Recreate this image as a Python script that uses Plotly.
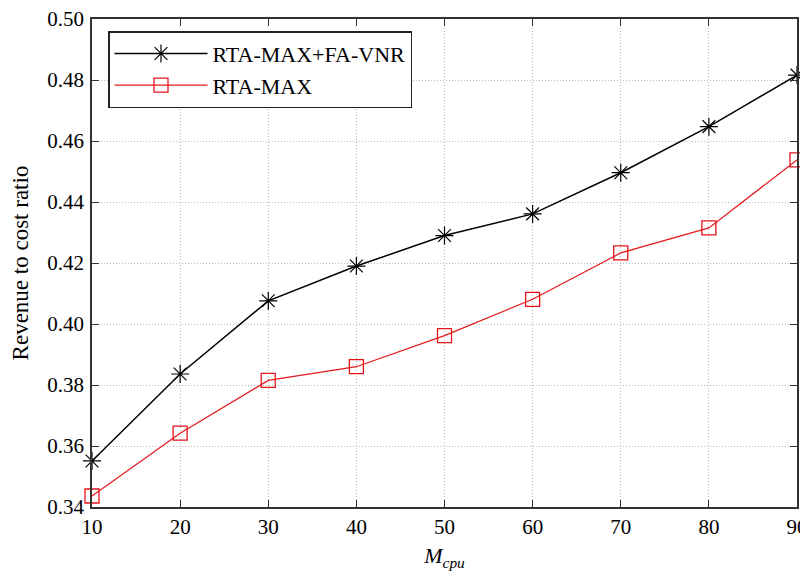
import plotly.graph_objects as go

m_cpu = [10, 20, 30, 40, 50, 60, 70, 80, 90]
rta_max_fa_vnr = [0.3551, 0.3836, 0.4076, 0.4190, 0.4290, 0.4361, 0.4496, 0.4647, 0.4816]
rta_max = [0.3436, 0.3642, 0.3815, 0.3860, 0.3962, 0.4081, 0.4233, 0.4315, 0.4538]
x_ticks = [10, 20, 30, 40, 50, 60, 70, 80, 90]
y_ticks = [0.34, 0.36, 0.38, 0.40, 0.42, 0.44, 0.46, 0.48, 0.50]

font = "Liberation Serif, Times New Roman, serif"

fig = go.Figure()
fig.add_trace(go.Scatter(
    x=m_cpu, y=rta_max_fa_vnr, name="RTA-MAX+FA-VNR", mode="lines+markers",
    line=dict(color="black", width=1.5),
    marker=dict(symbol="asterisk-open", size=15, color="black", line=dict(color="black", width=1.2)),
    cliponaxis=False,
))
fig.add_trace(go.Scatter(
    x=m_cpu, y=rta_max, name="RTA-MAX", mode="lines+markers",
    line=dict(color="#e41a1c", width=1.2),
    marker=dict(symbol="square-open", size=14, color="#e8141c", line=dict(color="#e8141c", width=1.3)),
    cliponaxis=False,
))

axis_common = dict(
    showline=True, linecolor="#333333", linewidth=1.5, mirror="ticks",
    ticks="inside", ticklen=7, tickcolor="#333333", tickwidth=1.2,
    showgrid=True, gridcolor="#b8b8b8", griddash="1px,2px", gridwidth=1,
    zeroline=False, automargin=False, ticklabeloverflow="allow",
    tickfont=dict(family=font, size=21, color="black"),
)

fig.update_layout(
    width=800, height=567,
    margin=dict(l=84, r=11, t=11, b=68),
    paper_bgcolor="white", plot_bgcolor="white",
    font=dict(family=font, size=21, color="black"),
    showlegend=True,
    legend=dict(
        x=0.0227, y=0.975, xanchor="left", yanchor="top",
        bordercolor="#222222", borderwidth=1.5, bgcolor="white",
        font=dict(family=font, size=22, color="black"),
        tracegroupgap=0, itemwidth=93,
    ),
    xaxis=dict(axis_common, range=[10, 90], tickvals=x_ticks,
               title=dict(text="<i>M</i><sub><i>cpu</i></sub>", font=dict(family=font, size=22), standoff=10)),
    yaxis=dict(axis_common, range=[0.34, 0.50], tickvals=y_ticks, tickformat=".2f",
               ticklabelstandoff=2,
               title=dict(text="Revenue to cost ratio", font=dict(family=font, size=23), standoff=16)),
)

fig.write_html("out.html")
